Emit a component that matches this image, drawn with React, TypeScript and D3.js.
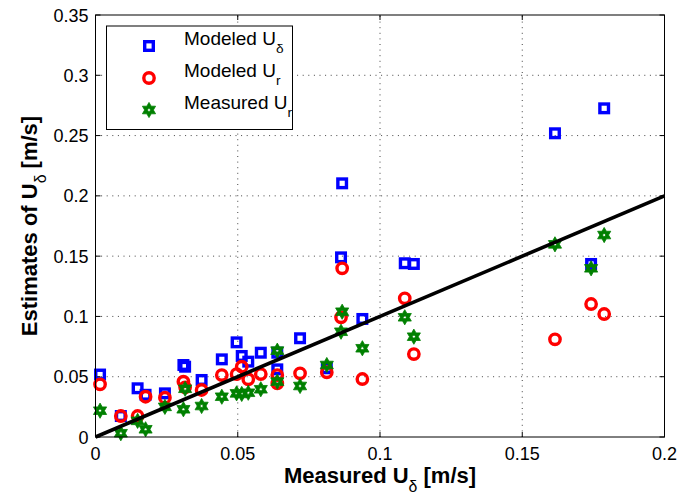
import React from "react";
import * as d3 from "d3";

// Measured U_delta for each station [m/s]
const measuredUd = [
  0.0016, 0.0089, 0.0148, 0.0176, 0.0244, 0.0309, 0.0315, 0.0373, 0.0444, 0.0496,
  0.0514, 0.0537, 0.0581, 0.0639, 0.0639, 0.0719, 0.0813, 0.0863, 0.0867, 0.0938,
  0.1087, 0.1119, 0.1615, 0.1742, 0.1788,
];
// Modeled U_delta
const modeledUdelta = [
  0.0518, 0.0174, 0.0404, 0.035, 0.0362, 0.0597, 0.0583, 0.0473, 0.0644, 0.0785,
  0.0672, 0.0625, 0.0699, 0.0699, 0.0561, 0.0819, 0.057, 0.149, 0.2104, 0.0979,
  0.1441, 0.1435, 0.2519, 0.1435, 0.2726,
];
// Modeled U_r
const modeledUr = [
  0.0437, 0.0174, 0.0174, 0.0334, 0.0326, 0.0459, 0.0412, 0.039, 0.0514, 0.0522,
  0.0583, 0.0479, 0.0522, 0.0514, 0.0445, 0.0528, 0.0537, 0.0993, 0.1399, 0.0481,
  0.115, 0.0688, 0.081, 0.1103, 0.102,
];
// Measured U_r
const measuredUr = [
  0.0218, 0.0031, 0.0134, 0.0064, 0.025, 0.023, 0.04, 0.0257, 0.0334, 0.0362,
  0.0357, 0.0367, 0.0396, 0.0716, 0.0459, 0.0423, 0.0597, 0.0873, 0.1039, 0.0736,
  0.0993, 0.0832, 0.1598, 0.1399, 0.1675,
];

const xTicks = [0, 0.05, 0.1, 0.15, 0.2];
const yTicks = [0, 0.05, 0.1, 0.15, 0.2, 0.25, 0.3, 0.35];
const oneToOne = [0, 0.2];

const W = 678;
const H = 494;
const plot = { left: 95.5, right: 664.5, top: 15, bottom: 437 };
const FONT = "'Liberation Sans', Arial, Helvetica, sans-serif";
const BLUE = "#0000ff";
const RED = "#ff0000";
const GREEN = "#008000";

const fmt = (v: number) => String(+v.toFixed(2));

// Six-pointed star (point up) with a small hexagonal hole in the middle
function hexagramPath(R: number, hole: number) {
  const r = R / Math.sqrt(3);
  const pts: string[] = [];
  for (let i = 0; i < 12; i++) {
    const a = -Math.PI / 2 + (i * Math.PI) / 6;
    const rad = i % 2 === 0 ? R : r;
    pts.push(`${(rad * Math.cos(a)).toFixed(2)},${(rad * Math.sin(a)).toFixed(2)}`);
  }
  const inner: string[] = [];
  for (let i = 0; i < 6; i++) {
    const a = -Math.PI / 2 + Math.PI / 6 + (i * Math.PI) / 3;
    inner.push(`${(hole * Math.cos(a)).toFixed(2)},${(hole * Math.sin(a)).toFixed(2)}`);
  }
  return `M${pts.join("L")}Z M${inner.join("L")}Z`;
}
const STAR = hexagramPath(7.6, 1.6);

function Square({ x, y }: { x: number; y: number }) {
  return (
    <rect x={x - 4.3} y={y - 4.3} width={8.6} height={8.6} fill="none" stroke={BLUE} strokeWidth={3.4} />
  );
}
function Circle({ x, y }: { x: number; y: number }) {
  return <circle cx={x} cy={y} r={5.2} fill="none" stroke={RED} strokeWidth={3.4} />;
}
function Star({ x, y }: { x: number; y: number }) {
  return (
    <path
      d={STAR}
      transform={`translate(${x},${y})`}
      fill={GREEN}
      fillRule="evenodd"
      stroke={GREEN}
      strokeWidth={0.8}
      strokeLinejoin="miter"
    />
  );
}

function Label({
  x,
  y,
  main,
  sub,
  tail,
  size,
  bold,
  anchor,
}: {
  x: number;
  y: number;
  main: string;
  sub: string;
  tail?: string;
  size: number;
  bold?: boolean;
  anchor?: "start" | "middle" | "end";
}) {
  const drop = size * 0.42;
  return (
    <text
      x={x}
      y={y}
      fontFamily={FONT}
      fontSize={size}
      fontWeight={bold ? "bold" : "normal"}
      textAnchor={anchor ?? "start"}
      fill="#000"
    >
      {main}
      <tspan fontSize={size * 0.72} dy={drop} fontWeight="normal">
        {sub}
      </tspan>
      {tail ? <tspan dy={-drop}>{tail}</tspan> : null}
    </text>
  );
}

export default function App() {
  const x = d3.scaleLinear().domain([0, 0.2]).range([plot.left, plot.right]);
  const y = d3.scaleLinear().domain([0, 0.35]).range([plot.bottom, plot.top]);
  const line = d3
    .line<number>()
    .x((d) => x(d))
    .y((d) => y(d));

  const tickLen = 5;
  const pw = plot.right - plot.left;
  const ph = plot.bottom - plot.top;

  const legendX = 106.5;
  const legendY = 26;
  const legendRows = [
    { kind: "square", label: "Modeled U", sub: "\u03b4" },
    { kind: "circle", label: "Modeled U", sub: "r" },
    { kind: "star", label: "Measured U", sub: "r" },
  ];

  return (
    <svg
      width={W}
      height={H}
      viewBox={`0 0 ${W} ${H}`}
      style={{ position: "absolute", left: 0, top: 0, background: "#fff" }}
    >
      <rect x={0} y={0} width={W} height={H} fill="#fff" />

      {/* dotted grid */}
      <g stroke="#444" strokeWidth={1} strokeDasharray="1,4.6">
        {xTicks.slice(1, -1).map((t) => (
          <line key={`gx${t}`} x1={x(t)} x2={x(t)} y1={plot.bottom} y2={plot.top} />
        ))}
        {yTicks.slice(1, -1).map((t) => (
          <line key={`gy${t}`} x1={plot.left} x2={plot.right} y1={y(t)} y2={y(t)} />
        ))}
      </g>

      {/* tick marks on all four sides */}
      <g stroke="#000" strokeWidth={1}>
        {xTicks.map((t) => (
          <g key={`tx${t}`}>
            <line x1={x(t)} x2={x(t)} y1={plot.bottom} y2={plot.bottom - tickLen} />
            <line x1={x(t)} x2={x(t)} y1={plot.top} y2={plot.top + tickLen} />
          </g>
        ))}
        {yTicks.map((t) => (
          <g key={`ty${t}`}>
            <line x1={plot.left} x2={plot.left + tickLen} y1={y(t)} y2={y(t)} />
            <line x1={plot.right} x2={plot.right - tickLen} y1={y(t)} y2={y(t)} />
          </g>
        ))}
      </g>

      {/* markers */}
      <g>
        {measuredUd.map((d, i) => (
          <Square key={`s${i}`} x={x(d)} y={y(modeledUdelta[i])} />
        ))}
        {measuredUd.map((d, i) => (
          <Circle key={`c${i}`} x={x(d)} y={y(modeledUr[i])} />
        ))}
        {measuredUd.map((d, i) => (
          <Star key={`h${i}`} x={x(d)} y={y(measuredUr[i])} />
        ))}
      </g>

      {/* 1:1 line */}
      <path d={line(oneToOne) ?? ""} fill="none" stroke="#000" strokeWidth={3.6} />

      {/* axes box */}
      <rect x={plot.left} y={plot.top} width={pw} height={ph} fill="none" stroke="#000" strokeWidth={1} />

      {/* tick labels */}
      <g fontFamily={FONT} fontSize={18} fill="#000">
        {xTicks.map((t) => (
          <text key={`lx${t}`} x={x(t)} y={plot.bottom + 23} textAnchor="middle">
            {fmt(t)}
          </text>
        ))}
        {yTicks.map((t) => (
          <text key={`ly${t}`} x={plot.left - 7} y={y(t) + 6.5} textAnchor="end">
            {fmt(t)}
          </text>
        ))}
      </g>

      {/* axis labels */}
      <Label
        x={(plot.left + plot.right) / 2}
        y={483}
        main="Measured U"
        sub={"\u03b4"}
        tail=" [m/s]"
        size={22}
        bold
        anchor="middle"
      />
      <g transform={`translate(37, ${(plot.top + plot.bottom) / 2}) rotate(-90)`}>
        <Label x={0} y={0} main="Estimates of U" sub={"\u03b4"} tail=" [m/s]" size={22} bold anchor="middle" />
      </g>

      {/* legend */}
      <rect x={legendX} y={legendY} width={186} height={103.5} fill="#fff" stroke="#000" strokeWidth={1} />
      {legendRows.map((row, i) => {
        const cy = 46 + i * 32;
        return (
          <g key={row.kind}>
            {row.kind === "square" ? (
              <Square x={149} y={cy} />
            ) : row.kind === "circle" ? (
              <Circle x={149} y={cy} />
            ) : (
              <Star x={149} y={cy} />
            )}
            <Label x={184} y={cy - 1} main={row.label} sub={row.sub} size={19} />
          </g>
        );
      })}
    </svg>
  );
}
